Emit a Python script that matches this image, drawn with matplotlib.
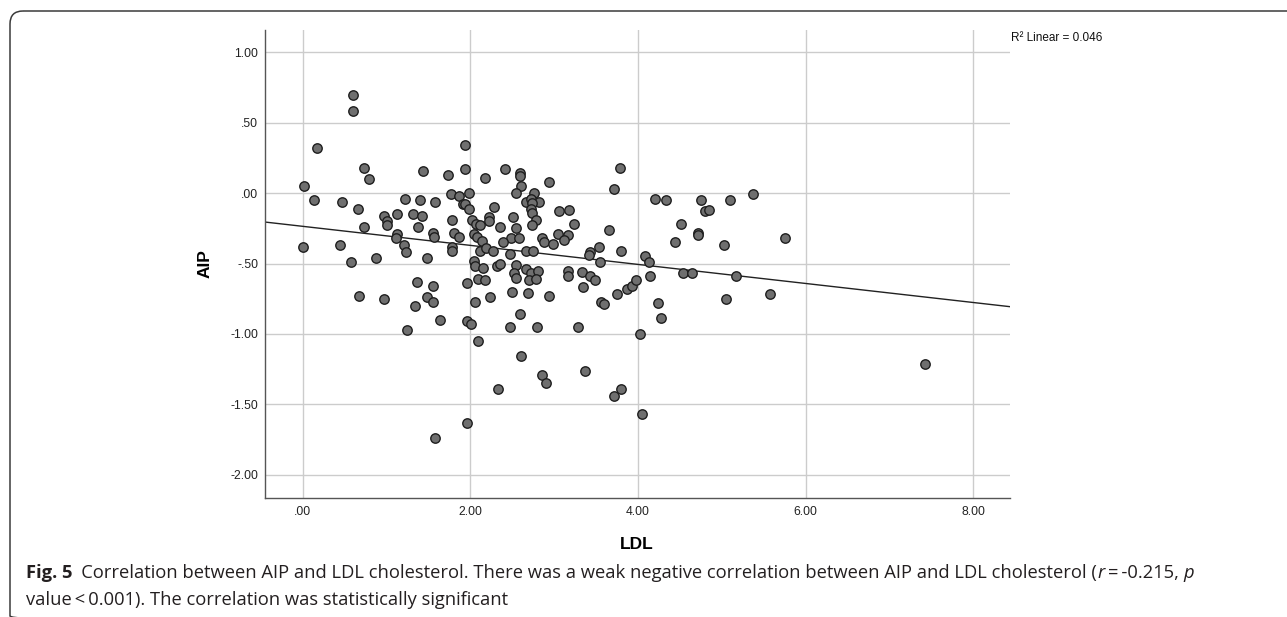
import matplotlib
matplotlib.use("Agg")
import numpy as np
import matplotlib.pyplot as plt
from matplotlib import transforms
from matplotlib.patches import FancyBboxPatch
from matplotlib.ticker import FixedLocator, FuncFormatter

# LDL (x) and AIP (y)
ldl = [0.60, 0.60, 0.17, 0.73, 0.79, 1.43, 1.73, 1.94, 1.94, 0.01,
       0.13, 0.47, 0.66, 1.22, 1.40, 1.58, 1.77, 1.86, 1.99, 1.91,
       1.94, 1.98, 0.97, 1.01, 1.00, 1.12, 1.32, 1.42, 1.78, 2.02,
       2.07, 0.73, 1.37, 2.41, 2.18, 2.59, 2.59, 2.60, 2.94, 3.79,
       3.71, 4.20, 4.34, 2.55, 2.76, 2.67, 2.72, 2.82, 2.74, 2.73,
       2.74, 2.78, 2.74, 2.28, 2.22, 2.22, 2.51, 3.06, 3.18, 3.24,
       2.12, 2.36, 2.55, 3.66, 0.00, 0.44, 0.58, 0.88, 1.12, 1.11,
       1.21, 1.23, 1.48, 1.55, 1.57, 1.81, 1.86, 1.78, 1.78, 2.04,
       2.08, 2.12, 2.04, 2.06, 1.36, 1.56, 0.67, 0.97, 1.48, 1.55,
       1.34, 1.64, 1.25, 1.96, 2.06, 1.96, 2.01, 2.09, 2.09, 3.05,
       3.17, 3.12, 2.85, 2.88, 2.99, 2.49, 2.58, 2.39, 2.14, 2.19,
       2.27, 2.47, 2.66, 2.75, 3.43, 3.42, 3.53, 3.80, 3.55, 4.08,
       4.13, 2.15, 2.32, 2.36, 2.55, 2.52, 2.55, 2.67, 2.73, 2.81,
       2.70, 2.78, 3.17, 3.16, 3.33, 3.43, 3.49, 3.35, 2.18, 2.24,
       2.50, 2.69, 2.94, 3.56, 3.60, 3.75, 3.87, 3.93, 3.98, 4.15,
       4.24, 4.28, 4.03, 2.59, 2.47, 2.80, 3.28, 2.61, 3.37, 2.86,
       4.75, 5.10, 5.37, 4.80, 4.85, 4.51, 4.72, 4.72, 4.44, 5.03,
       5.76, 4.54, 4.65, 5.17, 5.05, 5.58, 2.33, 2.90, 3.71, 3.80,
       4.05, 1.96, 1.58, 7.43]
aip = [0.70, 0.58, 0.32, 0.18, 0.10, 0.16, 0.13, 0.34, 0.17, 0.05,
       -0.05, -0.06, -0.11, -0.04, -0.05, -0.06, -0.01, -0.02, 0.00, -0.08,
       -0.08, -0.11, -0.16, -0.20, -0.23, -0.15, -0.15, -0.16, -0.19, -0.19,
       -0.22, -0.24, -0.24, 0.17, 0.11, 0.14, 0.12, 0.05, 0.08, 0.18,
       0.03, -0.04, -0.05, 0.00, 0.00, -0.06, -0.04, -0.06, -0.07, -0.11,
       -0.14, -0.19, -0.23, -0.10, -0.17, -0.20, -0.17, -0.13, -0.12, -0.22,
       -0.23, -0.24, -0.25, -0.26, -0.38, -0.37, -0.49, -0.46, -0.29, -0.32,
       -0.37, -0.42, -0.46, -0.28, -0.31, -0.28, -0.31, -0.38, -0.41, -0.29,
       -0.31, -0.41, -0.48, -0.52, -0.63, -0.66, -0.73, -0.75, -0.74, -0.77,
       -0.80, -0.90, -0.97, -0.64, -0.77, -0.91, -0.93, -1.05, -0.61, -0.29,
       -0.30, -0.33, -0.32, -0.35, -0.36, -0.32, -0.32, -0.35, -0.34, -0.39,
       -0.41, -0.43, -0.41, -0.41, -0.42, -0.44, -0.38, -0.41, -0.49, -0.45,
       -0.49, -0.53, -0.52, -0.50, -0.51, -0.57, -0.60, -0.54, -0.57, -0.55,
       -0.62, -0.61, -0.55, -0.59, -0.56, -0.59, -0.62, -0.67, -0.62, -0.74,
       -0.70, -0.71, -0.73, -0.77, -0.79, -0.72, -0.68, -0.66, -0.62, -0.59,
       -0.78, -0.89, -1.00, -0.86, -0.95, -0.95, -0.95, -1.16, -1.26, -1.29,
       -0.05, -0.05, -0.01, -0.13, -0.12, -0.22, -0.28, -0.30, -0.35, -0.37,
       -0.32, -0.57, -0.57, -0.59, -0.75, -0.72, -1.39, -1.35, -1.44, -1.39,
       -1.57, -1.63, -1.74, -1.21]

# fitted line as shown in the chart
fit_intercept = -0.236
fit_slope = -0.0676
r2_text = "R² Linear = 0.046"

x_ticks = [0, 2, 4, 6, 8]
y_ticks = [1.0, 0.5, 0.0, -0.5, -1.0, -1.5, -2.0]

W, H = 1287, 617
fig = plt.figure(figsize=(W / 100, H / 100), dpi=100)

# frame around the whole figure (pixel coords overlay)
bg = fig.add_axes([0, 0, 1, 1], zorder=-5)
bg.set_xlim(0, W)
bg.set_ylim(H, 0)
bg.axis("off")
bg.add_patch(FancyBboxPatch((10, 11), 1400, 618, boxstyle="round,pad=0,rounding_size=13",
                            fill=False, edgecolor="#3a3a3a", linewidth=1.1))

ax = fig.add_axes([265 / W, 1 - 498 / H, 745 / W, 468 / H])
ax.set_xlim(-0.45, 8.44)
ax.set_ylim(-2.165, 1.158)

ax.grid(True, color="#cccccc", linewidth=1.0)
ax.set_axisbelow(True)
for s in ["top", "right"]:
    ax.spines[s].set_visible(False)
for s in ["left", "bottom"]:
    ax.spines[s].set_color("#555555")
    ax.spines[s].set_linewidth(1.0)


def spss_fmt(v, pos=None):
    s = "%.2f" % v
    if s.startswith("0."):
        s = s[1:]
    elif s.startswith("-0."):
        s = "-" + s[2:]
    return s


ax.xaxis.set_major_locator(FixedLocator(x_ticks))
ax.yaxis.set_major_locator(FixedLocator(y_ticks))
ax.xaxis.set_major_formatter(FuncFormatter(spss_fmt))
ax.yaxis.set_major_formatter(FuncFormatter(spss_fmt))
ax.tick_params(length=0, labelsize=8.7, labelcolor="#222222")
ax.tick_params(axis="x", pad=6)
ax.tick_params(axis="y", pad=5)
for lab in ax.get_xticklabels() + ax.get_yticklabels():
    lab.set_family("Liberation Sans")

ax.scatter(ldl, aip, s=46, facecolor="#6f6f6f", edgecolor="#1e1e1e",
           linewidth=1.0, zorder=3)

xl = np.array(ax.get_xlim())
ax.plot(xl, fit_intercept + fit_slope * xl, color="#222222", linewidth=1.0, zorder=2)
ax.set_xlim(-0.45, 8.44)

ax.set_xlabel("LDL", family="Liberation Sans", fontsize=12.5, fontweight="bold")
ax.set_ylabel("AIP", family="Liberation Sans", fontsize=12.5, fontweight="bold")
ax.xaxis.set_label_coords(0.4993, -0.083)
ax.yaxis.set_label_coords(-0.07, 0.502)

fig.text(1011 / W, 1 - 38 / H, r2_text, family="Liberation Sans", fontsize=8.5,
         color="#111111", ha="left", va="center")

# caption, pieces placed one after another
cap_font = "Open Sans"
cap_size = 13.2
cap_color = "#231f20"


def put_line(x, y, parts):
    t = fig.transFigure
    renderer = fig.canvas.get_renderer()
    for s, kw in parts:
        txt = fig.text(x, y, s, transform=t,
                       family=cap_font, fontsize=cap_size, color=cap_color,
                       va="baseline", ha="left", **kw)
        ex = txt.get_window_extent(renderer=renderer)
        t = transforms.offset_copy(txt.get_transform(), fig=fig, x=ex.width, units="dots")


put_line(26 / W, 1 - 578 / H, [
    ("Fig. 5", {"fontweight": "bold"}),
    ("\u2002Correlation between AIP and LDL cholesterol. There was a weak negative "
     "correlation between AIP and LDL cholesterol (", {}),
    ("r", {"style": "italic"}),
    ("\u2009=\u2009-0.215, ", {}),
    ("p", {"style": "italic"}),
])
put_line(26 / W, 1 - 605 / H, [
    ("value\u2009<\u20090.001). The correlation was statistically significant", {}),
])

fig.savefig("out.png", dpi=100)
